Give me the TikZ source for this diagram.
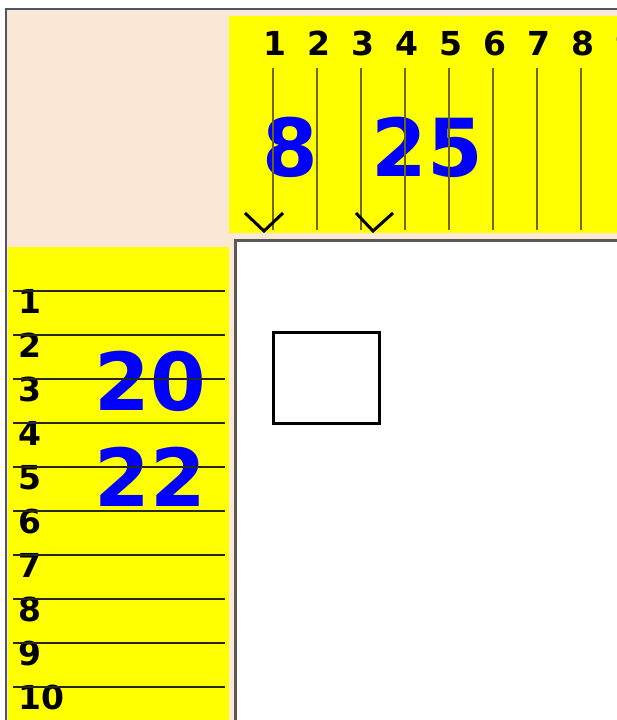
\documentclass[tikz,border=0pt]{standalone}
\usepackage{fontspec}
\setmainfont{DejaVu Sans}
\definecolor{paneback}{RGB}{250,232,214}
\definecolor{rulerfill}{RGB}{255,255,0}
\definecolor{rulerline}{RGB}{110,102,0}
\definecolor{framegray}{RGB}{80,86,100}
\definecolor{numblue}{RGB}{0,0,255}

\begin{document}
\begin{tikzpicture}[x=1pt, y=-1pt,
        rulenum/.style={inner sep=0pt, font=\fontsize{33}{33}\selectfont\bfseries},
        bignum/.style={inner sep=0pt, text=numblue, font=\fontsize{80}{80}\selectfont\bfseries},
        vline/.style={rulerline, line width=2.6pt},
        hline/.style={black!85, line width=2.4pt},
        checkv/.style={line width=3pt, line join=miter}]
        \def\s{44}
        \useasboundingbox (0,0) rectangle (617,720);
        \clip (0,0) rectangle (617,720);

        % window
        \fill[paneback] (5,8) rectangle (617,720);
        \draw[framegray, line width=2.5pt] (6,720) -- (6,9) -- (617,9);

        % top ruler
        \fill[rulerfill] (229,16) rectangle (617,233);
        \node[rulenum, anchor=base] (top1) at (275,55) {1};
        \node[rulenum, anchor=base] (top2) at (275+\s,55) {2};
        \node[rulenum, anchor=base] (top3) at (275+2*\s,55) {3};
        \node[rulenum, anchor=base] (top4) at (275+3*\s,55) {4};
        \node[rulenum, anchor=base] (top5) at (275+4*\s,55) {5};
        \node[rulenum, anchor=base] (top6) at (275+5*\s,55) {6};
        \node[rulenum, anchor=base] (top7) at (275+6*\s,55) {7};
        \node[rulenum, anchor=base] (top8) at (275+7*\s,55) {8};
        \node[rulenum, anchor=base] (top9) at (275+8*\s,55) {9};

        \node[bignum] (num8) at (290,147) {8};
        \node[bignum] (num25) at (427,147) {25};

        \draw[vline] (273,68) -- (273,230);
        \draw[vline] (273+\s,68) -- (273+\s,230);
        \draw[vline] (273+2*\s,68) -- (273+2*\s,230);
        \draw[vline] (273+3*\s,68) -- (273+3*\s,230);
        \draw[vline] (273+4*\s,68) -- (273+4*\s,230);
        \draw[vline] (273+5*\s,68) -- (273+5*\s,230);
        \draw[vline] (273+6*\s,68) -- (273+6*\s,230);
        \draw[vline] (273+7*\s,68) -- (273+7*\s,230);

        \draw[checkv] (245,213) -- (264,231) -- (283,213);
        \draw[checkv] (356,213) -- (373,231) -- (393,213);

        % left ruler
        \fill[rulerfill] (8,247) rectangle (229,720);
        \node[bignum] (num20) at (150,381) {20};
        \node[bignum] (num22) at (150,477) {22};

        \node[rulenum, anchor=base west] (left1) at (18,291+22.5) {1};
        \node[rulenum, anchor=base west] (left2) at (18,291+\s+22.5) {2};
        \node[rulenum, anchor=base west] (left3) at (18,291+2*\s+22.5) {3};
        \node[rulenum, anchor=base west] (left4) at (18,291+3*\s+22.5) {4};
        \node[rulenum, anchor=base west] (left5) at (18,291+4*\s+22.5) {5};
        \node[rulenum, anchor=base west] (left6) at (18,291+5*\s+22.5) {6};
        \node[rulenum, anchor=base west] (left7) at (18,291+6*\s+22.5) {7};
        \node[rulenum, anchor=base west] (left8) at (18,291+7*\s+22.5) {8};
        \node[rulenum, anchor=base west] (left9) at (18,291+8*\s+22.5) {9};
        \node[rulenum, anchor=base west] (left10) at (18,291+9*\s+22.5) {10};

        \draw[hline] (13,291) -- (225,291);
        \draw[hline] (13,291+\s) -- (225,291+\s);
        \draw[hline] (13,291+2*\s) -- (225,291+2*\s);
        \draw[hline] (13,291+3*\s) -- (225,291+3*\s);
        \draw[hline] (13,291+4*\s) -- (225,291+4*\s);
        \draw[hline] (13,291+5*\s) -- (225,291+5*\s);
        \draw[hline] (13,291+6*\s) -- (225,291+6*\s);
        \draw[hline] (13,291+7*\s) -- (225,291+7*\s);
        \draw[hline] (13,291+8*\s) -- (225,291+8*\s);
        \draw[hline] (13,291+9*\s) -- (225,291+9*\s);

        % canvas
        \fill[white] (234,239) rectangle (617,720);
        \draw[black!65, line width=3pt] (235.5,720) -- (235.5,240.5) -- (617,240.5);
        \draw[line width=3pt] (273,332) rectangle (379,423);
    \end{tikzpicture}
\end{document}
